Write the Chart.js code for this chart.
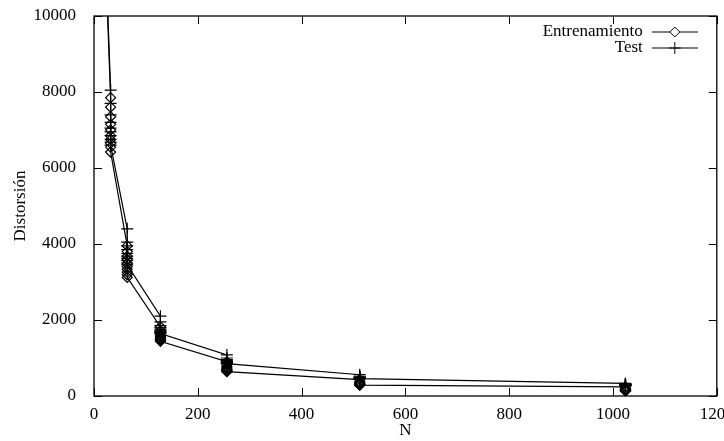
<!DOCTYPE html>
<html>
<head>
<meta charset="utf-8">
<script src="https://cdn.jsdelivr.net/npm/chart.js@4"></script>
<style>
  html, body { margin: 0; padding: 0; background: #fff; }
  #wrap { width: 724px; height: 441px; }
</style>
</head>
<body>
<div id="wrap"><canvas id="chart" width="724" height="441"></canvas></div>
<script>
// codebook sizes (x) and distortion of each run at that size (y)
const sizes = [16, 32, 64, 128, 256, 512, 1024];
const trainDist = [
  [13700],
  [7850, 7600, 7350, 7150, 7000, 6850, 6750, 6650, 6550, 6420],
  [3950, 3800, 3680, 3580, 3480, 3400, 3330, 3260, 3190, 3120],
  [1820, 1720, 1650, 1600, 1560, 1530, 1500, 1480, 1460, 1440],
  [900, 820, 770, 740, 710, 690, 670, 660, 650, 640],
  [430, 380, 350, 330, 320, 310, 300, 295, 290, 285],
  [240, 200, 180, 170, 160, 150, 145, 140, 135, 130]
];
const testDist = [
  [14100],
  [8050, 7700, 7400, 7200, 7050, 6950, 6850, 6750, 6680, 6600],
  [4400, 4050, 3950, 3850, 3750, 3680, 3620, 3560, 3500, 3450],
  [2100, 1950, 1850, 1800, 1760, 1730, 1700, 1680, 1660, 1640],
  [1080, 1000, 960, 930, 910, 890, 880, 870, 860, 850],
  [560, 520, 500, 490, 480, 475, 470, 465, 460, 455],
  [330, 310, 300, 295, 290, 285, 280, 278, 275, 272]
];
const seriesLabels = ["Entrenamiento", "Test"];
const xTicks = [0, 200, 400, 600, 800, 1000, 1200];
const yTicks = [0, 2000, 4000, 6000, 8000, 10000];

const serif = "'Liberation Serif', 'DejaVu Serif', serif";
const fontSize = 17;

function toPoints(runs) {
  const pts = [];
  runs.forEach((vals, i) => vals.forEach(v => pts.push({ x: sizes[i], y: v })));
  return pts;
}

// gnuplot-like frame: border on all sides, ticks pointing inward, key in the corner
const framePlugin = {
  id: "frame",
  afterDatasetsDraw(chart) {
    const { ctx, chartArea: a, scales } = chart;
    ctx.save();
    ctx.strokeStyle = "#000";
    ctx.lineWidth = 1.3;
    ctx.strokeRect(a.left, a.top, a.right - a.left, a.bottom - a.top);
    ctx.lineWidth = 1;
    ctx.beginPath();
    xTicks.forEach(t => {
      const x = Math.round(scales.x.getPixelForValue(t)) + 0.5;
      ctx.moveTo(x, a.bottom); ctx.lineTo(x, a.bottom - 8);
      ctx.moveTo(x, a.top); ctx.lineTo(x, a.top + 8);
    });
    yTicks.forEach(t => {
      const y = Math.round(scales.y.getPixelForValue(t)) + 0.5;
      ctx.moveTo(a.left, y); ctx.lineTo(a.left + 8, y);
      ctx.moveTo(a.right, y); ctx.lineTo(a.right - 8, y);
    });
    ctx.stroke();

    ctx.font = fontSize + "px " + serif;
    ctx.textAlign = "right";
    ctx.textBaseline = "middle";
    chart.data.datasets.forEach((ds, i) => {
      const y = a.top + 16 + i * 16;
      ctx.fillStyle = "#000";
      ctx.fillText(ds.label, a.right - 74, y);
      ctx.beginPath();
      ctx.moveTo(a.right - 65, y);
      ctx.lineTo(a.right - 19, y);
      ctx.stroke();
      ctx.fillStyle = "#fff";
      Chart.helpers.drawPoint(ctx, {
        pointStyle: ds.pointStyle, radius: ds.pointRadius, rotation: 0, borderWidth: 1.2
      }, a.right - 42, y);
    });
    ctx.restore();
  }
};

new Chart(document.getElementById("chart"), {
  type: "line",
  data: {
    datasets: [
      {
        label: seriesLabels[0],
        data: toPoints(trainDist),
        borderColor: "#000",
        borderWidth: 1.2,
        pointStyle: "rectRot",
        pointRadius: 5,
        pointBorderColor: "#000",
        pointBackgroundColor: "rgba(0,0,0,0)",
        pointBorderWidth: 1.2
      },
      {
        label: seriesLabels[1],
        data: toPoints(testDist),
        borderColor: "#000",
        borderWidth: 1.2,
        pointStyle: "cross",
        pointRadius: 6,
        pointBorderColor: "#000",
        pointBorderWidth: 1.2
      }
    ]
  },
  options: {
    responsive: false,
    animation: false,
    devicePixelRatio: 1,
    layout: { padding: { top: 16, right: 2, left: 0, bottom: 0 } },
    plugins: {
      legend: { display: false },
      tooltip: { enabled: false }
    },
    scales: {
      x: {
        type: "linear",
        min: 0,
        max: 1200,
        afterFit: s => { s.height = 45; s.paddingLeft = 0; s.paddingRight = 0; },
        afterBuildTicks: s => { s.ticks = xTicks.map(v => ({ value: v })); },
        grid: { display: false },
        border: { display: false },
        ticks: { color: "#000", font: { family: serif, size: fontSize }, padding: 0, maxRotation: 0, callback: v => String(v) },
        title: { display: true, text: "N", color: "#000", font: { family: serif, size: fontSize }, padding: { top: 0, bottom: 0 } }
      },
      y: {
        min: 0,
        max: 10000,
        afterFit: s => { s.width = 94; s.paddingTop = 0; s.paddingBottom = 0; },
        afterBuildTicks: s => { s.ticks = yTicks.map(v => ({ value: v })); },
        grid: { display: false },
        border: { display: false },
        ticks: { color: "#000", font: { family: serif, size: fontSize }, padding: 10, callback: v => String(v) },
        title: { display: true, text: "Distorsión", color: "#000", font: { family: serif, size: fontSize }, padding: { top: 10, bottom: 0 } }
      }
    }
  },
  plugins: [framePlugin]
});
</script>
</body>
</html>
